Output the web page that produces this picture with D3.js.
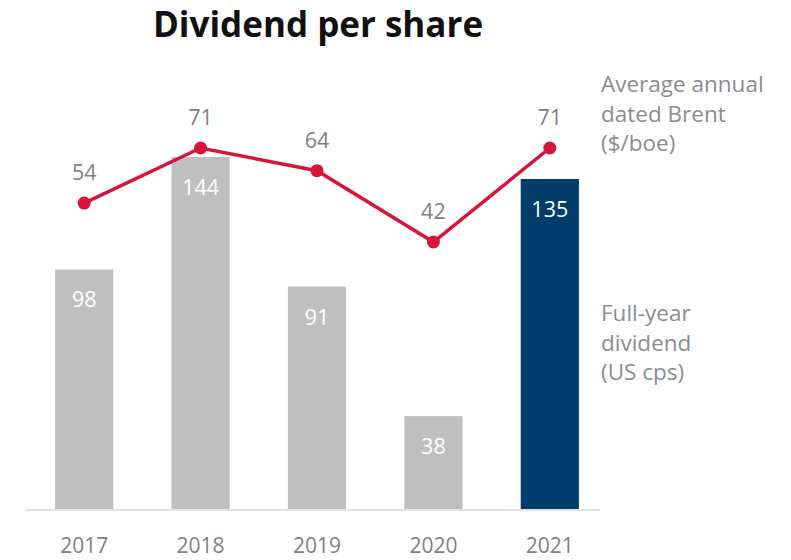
<!DOCTYPE html>
<html>
<head>
<meta charset="utf-8">
<script src="https://cdn.jsdelivr.net/npm/d3@7"></script>
<style>
  body { margin: 0; background: #fff; }
  text { font-family: "Open Sans", "Noto Sans", sans-serif; }
</style>
</head>
<body>
<svg class="chart" width="791" height="560"></svg>
<script>
var years = ["2017", "2018", "2019", "2020", "2021"];
var dividend = [98, 144, 91, 38, 135];
var brent = [54, 71, 64, 42, 71];
var brentLabel = ["Average annual", "dated Brent", "($/boe)"];
var dividendLabel = ["Full-year", "dividend", "(US cps)"];

var svg = d3.select(".chart");

var baseline = 509;

var xScale = d3.scaleBand()
    .domain(years)
    .range([26, 608])
    .paddingInner(0.5)
    .paddingOuter(0.25);

var yBar = d3.scaleLinear().domain([0, 144]).range([baseline, 157]);
var yLine = d3.scaleLinear().domain([42, 71]).range([242, 148]);

// title
svg.append("text")
    .attr("x", 318)
    .attr("y", 37)
    .attr("text-anchor", "middle")
    .style("font-size", "35px")
    .style("font-weight", "bold")
    .style("fill", "#111")
    .text("Dividend per share");

// bars
svg.selectAll("rect.bar")
    .data(years)
    .enter()
    .append("rect")
    .attr("class", "bar")
    .attr("x", function(d) { return xScale(d); })
    .attr("y", function(d, i) { return yBar(dividend[i]); })
    .attr("width", xScale.bandwidth())
    .attr("height", function(d, i) { return baseline - yBar(dividend[i]); })
    .style("fill", function(d, i) { return i == years.length - 1 ? "#003d6b" : "#bfbfbf"; });

svg.selectAll("text.barval")
    .data(years)
    .enter()
    .append("text")
    .attr("class", "barval")
    .attr("x", function(d) { return xScale(d) + xScale.bandwidth() / 2; })
    .attr("y", function(d, i) { return yBar(dividend[i]) + 38; })
    .attr("text-anchor", "middle")
    .style("font-size", "21.5px")
    .style("fill", "#fff")
    .text(function(d, i) { return dividend[i]; });

// axis line
svg.append("line")
    .attr("x1", 25)
    .attr("x2", 600)
    .attr("y1", baseline + 1)
    .attr("y2", baseline + 1)
    .style("stroke", "#e3e3e3")
    .style("stroke-width", 2);

svg.selectAll("text.year")
    .data(years)
    .enter()
    .append("text")
    .attr("class", "year")
    .attr("x", function(d) { return xScale(d) + xScale.bandwidth() / 2; })
    .attr("y", 553)
    .attr("text-anchor", "middle")
    .style("font-size", "21px")
    .style("fill", "#808080")
    .text(function(d) { return d; });

// brent line
var line = d3.line()
    .x(function(d, i) { return xScale(years[i]) + xScale.bandwidth() / 2; })
    .y(function(d) { return yLine(d); });

svg.append("path")
    .datum(brent)
    .attr("d", line)
    .style("fill", "none")
    .style("stroke", "#d7153a")
    .style("stroke-width", 3.5);

svg.selectAll("circle.pt")
    .data(brent)
    .enter()
    .append("circle")
    .attr("class", "pt")
    .attr("cx", function(d, i) { return xScale(years[i]) + xScale.bandwidth() / 2; })
    .attr("cy", function(d) { return yLine(d); })
    .attr("r", 6.5)
    .style("fill", "#d7153a");

svg.selectAll("text.ptval")
    .data(brent)
    .enter()
    .append("text")
    .attr("class", "ptval")
    .attr("x", function(d, i) { return xScale(years[i]) + xScale.bandwidth() / 2; })
    .attr("y", function(d) { return yLine(d) - 23; })
    .attr("text-anchor", "middle")
    .style("font-size", "21.5px")
    .style("fill", "#808080")
    .text(function(d) { return d; });

// side labels
function sideLabel(lines, top) {
    svg.append("g")
        .selectAll("text")
        .data(lines)
        .enter()
        .append("text")
        .attr("x", 601)
        .attr("y", function(d, i) { return top + i * 29.5; })
        .style("font-size", "22.5px")
        .style("fill", "#8c8c8c")
        .text(function(d) { return d; });
}
sideLabel(brentLabel, 92);
sideLabel(dividendLabel, 321);
</script>
</body>
</html>
